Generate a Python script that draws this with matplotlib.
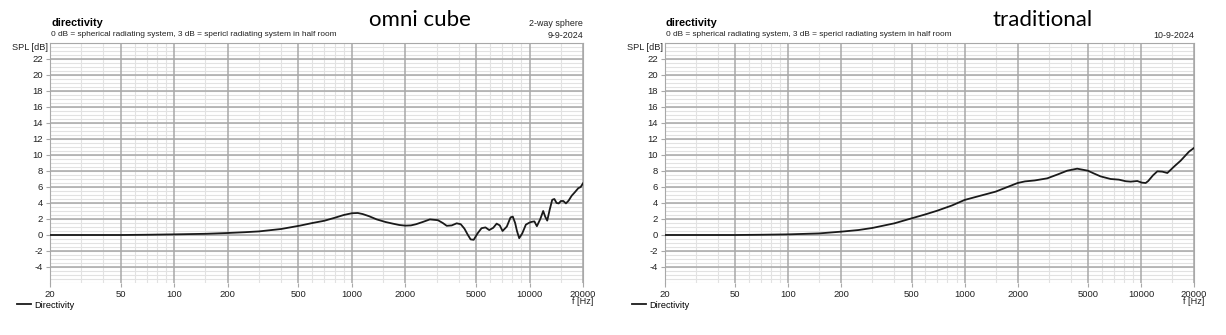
import numpy as np
import matplotlib.pyplot as plt
from matplotlib.ticker import FixedLocator, NullFormatter

# omni cube: directivity index over frequency
f_omni = [20, 30, 50, 70, 100, 150, 200, 250, 300, 400, 510, 600, 700, 800,
          900, 1000, 1080, 1150, 1250, 1380, 1550, 1700, 1850, 2000, 2150,
          2300, 2500, 2750, 3050, 3250, 3420, 3650, 3890, 4100, 4300, 4500,
          4660, 4850, 5100, 5370, 5650, 5930, 6250, 6530, 6800, 7050, 7450,
          7820, 8050, 8300, 8500, 8750, 9100, 9540, 10000, 10310, 10650, 11000,
          11500, 11940, 12250, 12580, 13000, 13420, 13800, 14200, 14600, 15020,
          15500, 16030, 16600, 17260, 18000, 18810, 19400, 20000]
spl_omni = [0.0, 0.0, 0.0, 0.03, 0.08, 0.15, 0.25, 0.35, 0.45, 0.75, 1.17,
            1.5, 1.78, 2.15, 2.5, 2.72, 2.75, 2.62, 2.35, 1.95, 1.62, 1.42,
            1.25, 1.17, 1.2, 1.35, 1.62, 1.95, 1.85, 1.5, 1.15, 1.2, 1.46,
            1.35, 0.8, 0.0, -0.55, -0.6, 0.2, 0.85, 0.95, 0.62, 0.9, 1.42,
            1.2, 0.5, 1.05, 2.2, 2.3, 1.5, 0.5, -0.4, 0.2, 1.3, 1.55, 1.65,
            1.7, 1.1, 2.0, 3.0, 2.3, 1.8, 3.2, 4.4, 4.5, 4.0, 3.95, 4.25, 4.25,
            3.95, 4.3, 4.9, 5.35, 5.85, 6.0, 6.46]

# traditional: directivity index over frequency
f_trad = [20, 30, 50, 70, 100, 150, 200, 250, 300, 400, 500, 600, 700, 850,
          1000, 1200, 1500, 1750, 2000, 2200, 2500, 2940, 3400, 3820, 4350,
          5000, 5400, 5900, 6730, 7500, 8200, 8750, 9540, 10100, 10640, 11000,
          11700, 12390, 13220, 14120, 15500, 16800, 18740, 20000]
spl_trad = [0.0, 0.0, 0.0, 0.03, 0.08, 0.2, 0.42, 0.62, 0.88, 1.46, 2.08,
            2.58, 3.04, 3.7, 4.38, 4.85, 5.42, 6.0, 6.5, 6.7, 6.82, 7.08, 7.6,
            8.04, 8.29, 8.04, 7.7, 7.33, 7.0, 6.92, 6.72, 6.67, 6.75, 6.55,
            6.5, 6.75, 7.45, 7.96, 7.92, 7.75, 8.6, 9.29, 10.42, 10.88]

x_major = [20, 50, 100, 200, 500, 1000, 2000, 5000, 10000, 20000]
x_minor = [30, 40, 60, 70, 80, 90, 150, 300, 400, 600, 700, 800, 900, 1500,
           3000, 4000, 6000, 7000, 8000, 9000, 15000]
y_major = list(range(-4, 23, 2))

W, H = 1226, 335
plt.rcParams['font.family'] = ['Liberation Sans', 'DejaVu Sans']
plt.rcParams['axes.unicode_minus'] = False
fig = plt.figure(figsize=(W / 100, H / 100), dpi=100)

GRID = '#a8a8a8'
FINE = '#e2e2e2'
INK = '#222222'


def px(x, y):
    return x / W, 1 - y / H


def panel(left, right, f, spl, title, title_x, right1, right2):
    x0, y0 = px(left, 283)
    x1, y1 = px(right, 43)
    ax = fig.add_axes([x0, y0, x1 - x0, y1 - y0])
    ax.semilogx(f, spl, color='#1a1a1a', lw=1.3, label='Directivity', zorder=3)
    ax.set_xlim(20, 20000)
    ax.set_ylim(-6, 24)
    ax.xaxis.set_major_locator(FixedLocator(x_major))
    ax.xaxis.set_minor_locator(FixedLocator(x_minor))
    ax.xaxis.set_minor_formatter(NullFormatter())
    ax.set_xticklabels([str(v) for v in x_major])
    ax.yaxis.set_major_locator(FixedLocator(y_major))

    # fine grid first, coarse grid on top of it
    for v in x_minor:
        ax.axvline(v, color=FINE, lw=0.8, zorder=0.5)
    for v in np.arange(-6, 24.1, 0.5):
        ax.axhline(v, color=FINE, lw=0.8, zorder=0.5)
    for v in x_major:
        ax.axvline(v, color=GRID, lw=1.1, zorder=1)
    for v in y_major:
        ax.axhline(v, color=GRID, lw=1.1, zorder=1)

    ax.tick_params(which='major', labelsize=6.8, length=3, color=GRID,
                   pad=2, labelcolor=INK)
    ax.tick_params(which='minor', length=0)
    for s in ['left', 'top', 'right']:
        ax.spines[s].set_color(GRID)
    ax.spines['bottom'].set_visible(False)

    # header texts
    fig.text(*px(left + 1, 23), 'directivity', fontsize=7.8, fontweight='bold',
             va='center', ha='left')
    fig.text(*px(left + 1, 35), '0 dB = spherical radiating system, 3 dB = '
             'spericl radiating system in half room', fontsize=5.95,
             va='center', ha='left', color=INK)
    fig.text(*px(title_x, 20), title, fontsize=16,
             family=['Lato', 'DejaVu Sans'], va='center', ha='center')
    if right1:
        fig.text(*px(right, 23), right1, fontsize=6.4, va='center', ha='right',
                 color=INK)
    fig.text(*px(right, 35), right2, fontsize=6.4, va='center', ha='right',
             color=INK)
    fig.text(*px(left - 2, 47), 'SPL [dB]', fontsize=6.6, va='center',
             ha='right', color=INK)
    fig.text(*px(right, 302), 'f [Hz]', fontsize=6.6, va='center',
             ha='center', color=INK)
    ax.legend(loc='center left', bbox_to_anchor=px(left - 33, 305),
              bbox_transform=fig.transFigure, frameon=False, fontsize=6.6,
              handlelength=1.5, handletextpad=0.4, borderaxespad=0,
              borderpad=0)
    return ax


panel(50, 583, f_omni, spl_omni, 'omni cube', 420, '2-way sphere', '9-9-2024')
panel(665, 1194, f_trad, spl_trad, 'traditional', 1043, None, '10-9-2024')

fig.savefig('out.png', dpi=100)
